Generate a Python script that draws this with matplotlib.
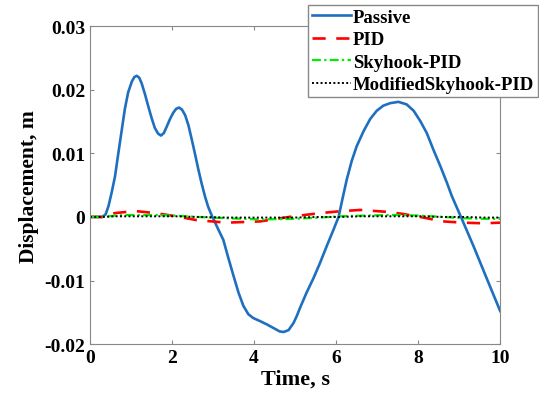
import matplotlib
matplotlib.use("Agg")
import matplotlib.pyplot as plt

plt.rcParams.update({
    "font.family": ["Liberation Serif", "DejaVu Serif"],
    "font.weight": "bold",
    "axes.labelweight": "bold",
})

# passive response
t_passive = [0, 0.3, 0.38, 0.45, 0.53, 0.61, 0.69, 0.77, 0.85, 0.93, 1.02, 1.08, 1.14,
             1.2, 1.26, 1.34, 1.42, 1.5, 1.58, 1.66, 1.73, 1.8, 1.87, 1.95, 2.03, 2.1,
             2.17, 2.24, 2.32, 2.4, 2.48, 2.56, 2.64, 2.72, 2.8, 2.88, 2.97, 3.05, 3.13,
             3.25, 3.37, 3.5, 3.62, 3.74, 3.86, 3.98, 4.15, 4.31, 4.51, 4.62, 4.72,
             4.84, 4.96, 5.04, 5.12, 5.28, 5.45, 5.61, 5.77, 5.93, 6.06, 6.16, 6.26,
             6.38, 6.5, 6.67, 6.83, 6.99, 7.15, 7.32, 7.52, 7.72, 7.89, 8.05, 8.21,
             8.37, 8.54, 8.7, 8.82, 9.07, 9.35, 9.68, 10]
y_passive = [0, 0, 0.0004, 0.0017, 0.0039, 0.0064, 0.0100, 0.0135, 0.0170, 0.0196,
             0.0213, 0.0220, 0.0222, 0.0219, 0.0210, 0.0193, 0.0174, 0.0156, 0.0140,
             0.0131, 0.0128, 0.0132, 0.0142, 0.0154, 0.0164, 0.0170, 0.0172, 0.0169,
             0.0160, 0.0144, 0.0122, 0.0099, 0.0075, 0.0053, 0.0033, 0.0016, 0.0002,
             -0.0009, -0.0020, -0.0036, -0.0064, -0.0093, -0.0119, -0.0140, -0.0153,
             -0.0159, -0.0164, -0.0169, -0.0176, -0.0180, -0.0181, -0.0178, -0.0167,
             -0.0156, -0.0143, -0.0119, -0.0096, -0.0072, -0.0046, -0.0021, 0.0,
             0.0030, 0.0059, 0.0088, 0.0111, 0.0135, 0.0154, 0.0167, 0.0175, 0.0179,
             0.0181, 0.0177, 0.0167, 0.0151, 0.0132, 0.0106, 0.0080, 0.0054, 0.0033,
             -0.0004, -0.0046, -0.0098, -0.0148]

t_ctrl = [0, 0.3, 0.6, 0.9, 1.14, 1.6, 2.1, 2.6, 3.33, 4.15, 4.96, 5.61, 6.1, 6.59,
          7.24, 7.6, 8.05, 8.6, 9.1, 9.6, 10]
y_pid = [0, 0, 0.0006, 0.0008, 0.0009, 0.0006, 0.0001, -0.0005, -0.0009, -0.0007,
         0.0001, 0.0006, 0.0009, 0.0011, 0.0008, 0.0005, 0.0, -0.0007, -0.0009,
         -0.0010, -0.0009]
y_skyhook = [0, 0, 0.0002, 0.0003, 0.0003, 0.0003, 0.0002, 0.0, -0.0002, -0.0004,
             -0.0003, -0.0001, 0.0001, 0.0002, 0.0003, 0.0003, 0.0002, 0.0,
             -0.0002, -0.0003, -0.0003]
y_modified = [0, 0, 0.0001, 0.0001, 0.0001, 0.0001, 0.0001, 0.0, -0.0001, -0.0001,
              -0.0001, 0.0, 0.0, 0.0001, 0.0001, 0.0001, 0.0001, 0.0, 0.0, -0.0001,
              -0.0001]

fig = plt.figure(figsize=(5.39, 4.06), dpi=100)
ax = fig.add_axes([0.167, 0.150, 0.761, 0.783])

ax.plot(t_passive, y_passive, color="#1f6fc0", lw=1.9, label="Passive")
ax.plot(t_ctrl, y_pid, color="red", lw=1.9, ls=(0, (5, 4)), label="PID")
ax.plot(t_ctrl, y_skyhook, color="#00ee00", lw=1.6, ls=(0, (4, 1.5, 1, 1.5)),
        label="Skyhook-PID")
ax.plot(t_ctrl, y_modified, color="black", lw=1.4, ls=(0, (1, 1.2)),
        label="ModifiedSkyhook-PID")

ax.set_xlim(0, 10)
ax.set_ylim(-0.02, 0.03)
ax.set_xticks([0, 2, 4, 6, 8, 10])
ax.set_yticks([-0.02, -0.01, 0, 0.01, 0.02, 0.03])
ax.set_yticklabels(["-0.02", "-0.01", "0", "0.01", "0.02", "0.03"])
ax.tick_params(direction="in", top=True, right=True, labelsize=14,
               color="#888888", length=3)
for s in ax.spines.values():
    s.set_color("#888888")
ax.set_xlabel("Time, s", fontsize=16, labelpad=2)
ax.set_ylabel("Displacement, m", fontsize=15.5, labelpad=4)

leg = ax.legend(loc="upper right", bbox_to_anchor=(0.998, 0.985),
                bbox_transform=fig.transFigure, borderaxespad=0, fancybox=False,
                edgecolor="#888888", fontsize=13.5, handlelength=2.1,
                handletextpad=0.1, labelspacing=0.28, borderpad=0.2, framealpha=1)
leg.get_frame().set_linewidth(1.0)

fig.savefig("out.png", dpi=100, facecolor="white")
